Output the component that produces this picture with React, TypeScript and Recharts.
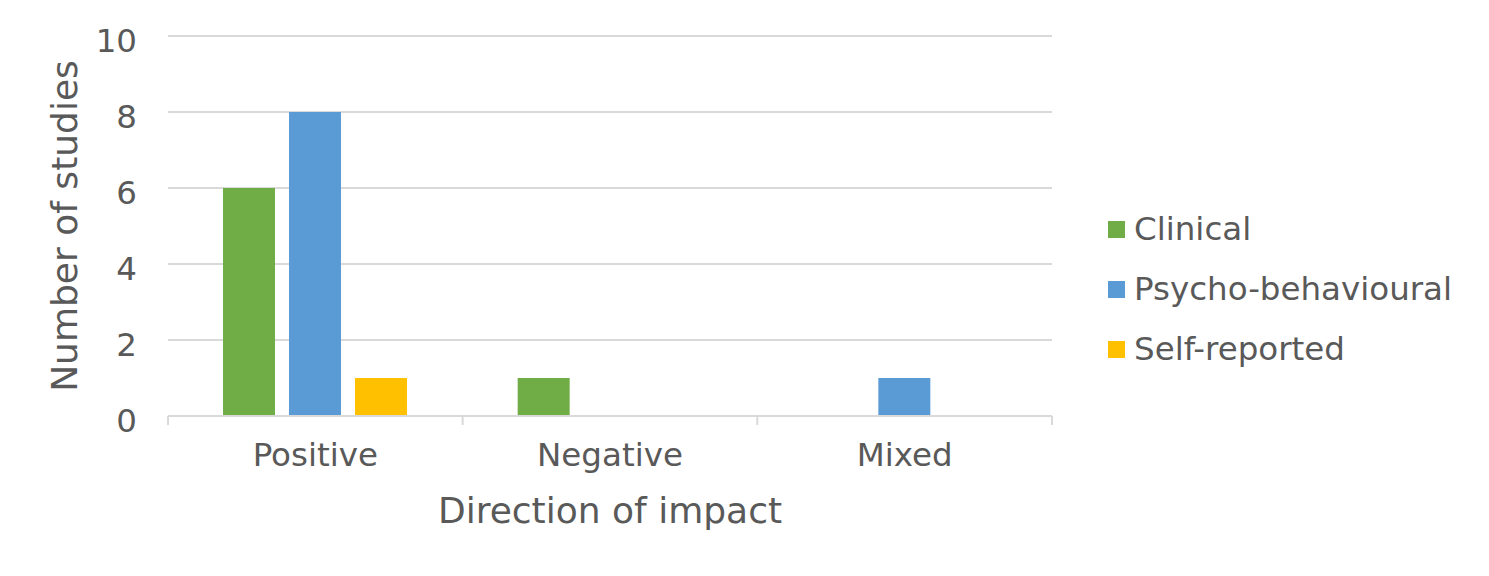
import React from 'react'
import { Bar, BarChart, CartesianGrid, XAxis, YAxis } from 'recharts'

// categories and counts
const CATEGORIES = ['Positive', 'Negative', 'Mixed']
const CLINICAL = [6, 1, 0]
const PSYCHO = [8, 0, 1]
const SELF_REPORTED = [1, 0, 0]
const Y_TICKS = [0, 2, 4, 6, 8, 10]

const SERIES = [
  { key: 'clinical', name: 'Clinical', color: '#70ad47', values: CLINICAL },
  { key: 'psycho', name: 'Psycho-behavioural', color: '#5b9bd5', values: PSYCHO },
  { key: 'self', name: 'Self-reported', color: '#ffc000', values: SELF_REPORTED },
]

const data = CATEGORIES.map((category, i) => {
  const row: Record<string, string | number> = { category }
  SERIES.forEach((s) => {
    row[s.key] = s.values[i]
  })
  return row
})

const TEXT = '#595959'
const GRID = '#d9d9d9'
const FONT = "'DejaVu Sans', sans-serif"
const TICK_GAP = 27
const TICK_LEN = 9

// category label plus the little marks between categories (Excel style)
function CategoryTick(props: any) {
  const { x, y, payload, width, index, visibleTicksCount } = props
  const half = width / visibleTicksCount / 2
  const top = y - TICK_GAP
  return (
    <g>
      <line x1={x - half} x2={x - half} y1={top} y2={top + TICK_LEN} stroke={GRID} strokeWidth={2} />
      {index === visibleTicksCount - 1 && (
        <line x1={x + half} x2={x + half} y1={top} y2={top + TICK_LEN} stroke={GRID} strokeWidth={2} />
      )}
      <text x={x} y={y} dy="0.71em" textAnchor="middle" fill={TEXT} fontSize={32.5} fontFamily={FONT}>
        {payload.value}
      </text>
    </g>
  )
}

export default function App() {
  return (
    <div style={{ position: 'absolute', left: 0, top: 0, width: 1489, height: 576, fontFamily: FONT }}>
      <BarChart
        width={1489}
        height={576}
        data={data}
        margin={{ top: 36, right: 437, bottom: 0, left: 0 }}
        barSize={52}
        barGap={14}
      >
        <CartesianGrid vertical={false} stroke={GRID} strokeWidth={2} />
        <XAxis
          dataKey="category"
          height={160}
          axisLine={{ stroke: GRID, strokeWidth: 2 }}
          tickLine={false}
          tickSize={0}
          tickMargin={TICK_GAP}
          tick={<CategoryTick />}
          label={{
            value: 'Direction of impact',
            position: 'insideBottom',
            offset: 53,
            fill: TEXT,
            fontSize: 36,
            fontFamily: FONT,
          }}
        />
        <YAxis
          width={168}
          domain={[0, 10]}
          ticks={Y_TICKS}
          axisLine={false}
          tickLine={false}
          tickSize={6}
          tickMargin={25}
          tick={{ fill: TEXT, fontSize: 32.5, fontFamily: FONT, dy: 4 }}
          label={{
            value: 'Number of studies',
            angle: -90,
            position: 'insideLeft',
            offset: 64,
            fill: TEXT,
            fontSize: 36,
            fontFamily: FONT,
            style: { textAnchor: 'middle' },
          }}
        />
        {SERIES.map((s) => (
          <Bar key={s.key} dataKey={s.key} name={s.name} fill={s.color} isAnimationActive={false} />
        ))}
      </BarChart>
      <div style={{ position: 'absolute', left: 1108, top: 199, color: TEXT, fontSize: 32.5 }}>
        {SERIES.map((s) => (
          <div key={s.key} style={{ display: 'flex', alignItems: 'center', height: 60 }}>
            <span style={{ width: 17, height: 17, background: s.color, marginRight: 9 }} />
            <span>{s.name}</span>
          </div>
        ))}
      </div>
    </div>
  )
}
